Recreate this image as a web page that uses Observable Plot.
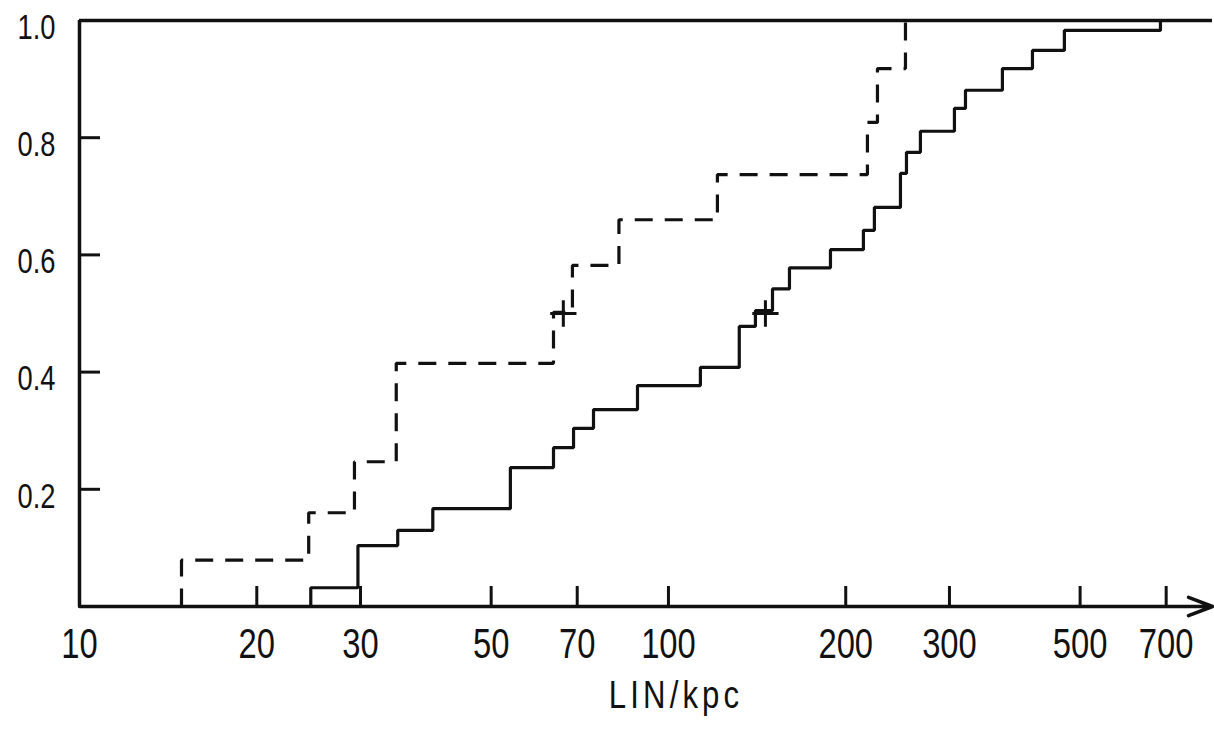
<!DOCTYPE html>
<html><head><meta charset="utf-8">
<script src="https://cdn.jsdelivr.net/npm/d3@7"></script>
<script src="https://cdn.jsdelivr.net/npm/@observablehq/plot@0.6"></script>
<style>
html,body{margin:0;padding:0;background:#fff;overflow:hidden}
#chart svg{display:block}
</style></head><body><div id="chart"></div>
<script>
// Dashed sample: jump positions (kpc) and cumulative fraction after each jump
const dashedX = [14.9, 24.5, 29.3, 34.5, 63.8, 68.7, 82.4, 121.1, 217.7, 226.4, 252.6];
const dashedY = [0.079, 0.160, 0.247, 0.415, 0.502, 0.582, 0.660, 0.737, 0.826, 0.918, 1.0];
// Solid sample
const solidX = [24.7, 29.7, 34.7, 39.8, 53.9, 63.8, 69.0, 74.6, 88.6, 113.3, 131.9, 140.5, 150.2, 160.5, 188.4, 214.3, 223.7, 247.7, 253.6, 267.8, 305.9, 319.4, 369.0, 415.0, 470.2, 684.5];
const solidY = [0.032, 0.104, 0.130, 0.167, 0.237, 0.271, 0.304, 0.336, 0.377, 0.408, 0.478, 0.505, 0.542, 0.578, 0.609, 0.642, 0.681, 0.739, 0.775, 0.811, 0.850, 0.881, 0.918, 0.949, 0.983, 1.0];
// Median markers (+)
const medianX = [66.3, 146.1];
const medianY = [0.5, 0.5];
// Axes
const xTickLabels = [10, 20, 30, 50, 70, 100, 200, 300, 500, 700];
const xTickMarks = [20, 30, 50, 70, 100, 200, 300, 500, 700];
const yTickLabels = [0.2, 0.4, 0.6, 0.8, 1.0];
const yTickMarks = [0.2, 0.4, 0.6, 0.8];
const xDomain = [10, 839];
const yDomain = [0, 1];
const xLabel = "LIN/kpc";

const stepRows = (xs, ys) => [{x: xs[0], y: yDomain[0]}, ...xs.map((x, i) => ({x, y: ys[i]}))];
const medians = medianX.map((x, i) => ({x, y: medianY[i]}));
const ink = "#111";
const font = '"Liberation Sans", Arial, sans-serif';

const plot = Plot.plot({
  width: 1214, height: 731,
  marginLeft: 79, marginRight: 2, marginTop: 20, marginBottom: 125,
  style: {fontFamily: font, color: ink, background: "#fff"},
  x: {type: "log", domain: xDomain, axis: null, label: null},
  y: {domain: yDomain, axis: null, label: null},
  marks: [
    Plot.axisY(yTickMarks, {anchor: "left", tickSize: -21, strokeWidth: 3, fill: "none", label: null}),
    Plot.axisY(yTickLabels, {anchor: "left", tickSize: 0, tickPadding: 24, fontSize: 35, dy: 7, tickFormat: d => d.toFixed(1), label: null}),
    Plot.axisX(xTickMarks, {anchor: "bottom", tickSize: -20, strokeWidth: 3, fill: "none", label: null}),
    Plot.axisX(xTickLabels, {anchor: "bottom", tickSize: 0, tickPadding: 22, fontSize: 42, tickFormat: d => String(d), label: null}),
    Plot.ruleX([xDomain[0]], {y1: yDomain[0], y2: yDomain[1], stroke: ink, strokeWidth: 3.5}),
    Plot.ruleY([yDomain[1]], {stroke: ink, strokeWidth: 3.5}),
    Plot.arrow([0], {x1: xDomain[0], x2: xDomain[1], y1: yDomain[0], y2: yDomain[0], stroke: ink, strokeWidth: 3.5, headLength: 11, headAngle: 42}),
    Plot.line(stepRows(solidX, solidY), {x: "x", y: "y", curve: "step-after", stroke: ink, strokeWidth: 3.2, strokeLinejoin: "miter", strokeLinecap: "butt"}),
    Plot.line(stepRows(dashedX, dashedY), {x: "x", y: "y", curve: "step-after", stroke: ink, strokeWidth: 3.2, strokeDasharray: "18,12", strokeLinejoin: "miter", strokeLinecap: "butt"}),
    Plot.dot(medians, {x: "x", y: "y", symbol: "plus", r: 8.5, stroke: ink, strokeWidth: 3}),
    Plot.text([xLabel], {text: d => d, frameAnchor: "bottom", dx: 30, dy: 101, fontSize: 38, fill: ink})
  ]
});
document.getElementById("chart").append(plot);

// Condensed lettering like the original typeface
function condense(sel, s) {
  sel.each(function () {
    const t = this.getAttribute("transform");
    if (t) this.setAttribute("transform", t + ` scale(${s},1)`);
    else {
      const x = +this.getAttribute("x") || 0;
      this.setAttribute("transform", `translate(${x},0) scale(${s},1) translate(${-x},0)`);
    }
  });
}
const root = d3.select(plot);
const labelText = root.selectAll("text").filter(function () { return this.textContent === xLabel; });
labelText.style("letter-spacing", "5px");
condense(root.selectAll("text").filter(function () { return this.textContent !== xLabel; }), 0.78);
condense(labelText, 0.82);
</script>
</body></html>
